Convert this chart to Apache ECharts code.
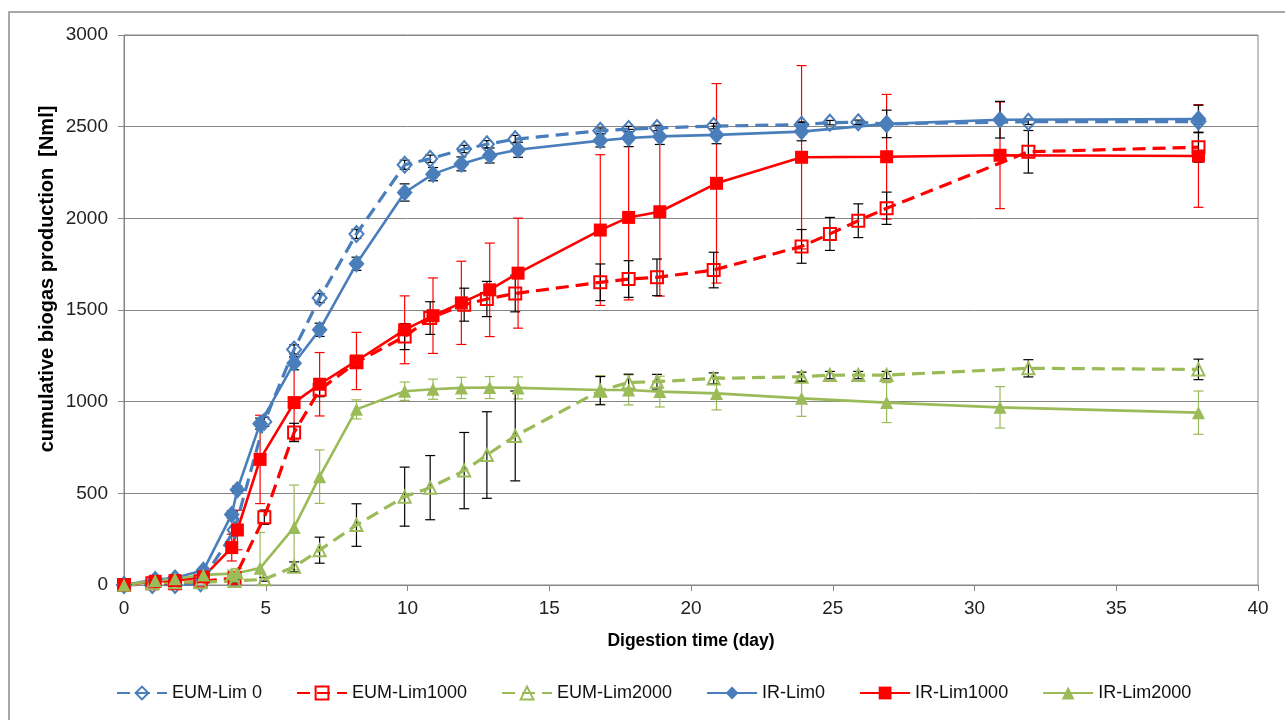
<!DOCTYPE html>
<html>
<head>
<meta charset="utf-8">
<script src="https://cdn.jsdelivr.net/npm/echarts@6/dist/echarts.min.js"></script>
<style>
html,body{margin:0;padding:0;background:#fff;}
#c{width:1285px;height:720px;}
</style>
</head>
<body>
<div id="c"></div>
<script>
// ---- data ----
const seriesNames = ['EUM-Lim 0', 'EUM-Lim1000', 'EUM-Lim2000', 'IR-Lim0', 'IR-Lim1000', 'IR-Lim2000'];
const xTitle = 'Digestion time (day)';
const yTitle = 'cumulative biogas production  [Nml]';
const daysEUM = [0, 1.0, 1.8, 2.7, 3.9, 4.95, 6.0, 6.9, 8.2, 9.9, 10.8, 12.0, 12.8, 13.8, 16.8, 17.8, 18.8, 20.8, 23.9, 24.9, 25.9, 26.9, 31.9, 37.9];
const daysIR = [0, 1.1, 1.8, 2.8, 3.8, 4.0, 4.8, 6.0, 6.9, 8.2, 9.9, 10.9, 11.9, 12.9, 13.9, 16.8, 17.8, 18.9, 20.9, 23.9, 26.9, 30.9, 37.9];

const eumLim0 = [0, 0, 0, 10, 300, 890, 1285, 1565, 1915, 2292, 2325, 2378, 2404, 2432, 2478, 2487, 2493, 2503, 2511, 2522, 2524, 2515, 2527, 2528];
const eumLim0Err = [0, 0, 0, 0, 20, 25, 25, 25, 25, 25, 20, 20, 20, 20, 15, 15, 15, 15, 15, 12, 12, 12, 15, 15];
const eumLim1000 = [0, 10, 10, 20, 38, 370, 832, 1065, 1215, 1355, 1456, 1529, 1560, 1590, 1651, 1669, 1678, 1718, 1847, 1915, 1987, 2055, 2363, 2388];
const eumLim1000Err = [0, 0, 0, 0, 10, 39, 50, 38, 30, 71, 89, 90, 96, 100, 100, 100, 100, 97, 92, 90, 92, 88, 116, 82];
const eumLim2000 = [0, 10, 15, 15, 22, 31, 99, 190, 327, 482, 531, 624, 709, 813, 1060, 1105, 1109, 1127, 1136, 1145, 1145, 1145, 1182, 1176];
const eumLim2000Err = [0, 0, 0, 0, 10, 10, 27, 71, 116, 161, 175, 208, 236, 245, 77, 45, 40, 30, 25, 20, 20, 20, 47, 56];

const irLim0 = [0, 30, 38, 80, 385, 520, 880, 1210, 1392, 1752, 2141, 2241, 2297, 2343, 2374, 2424, 2438, 2447, 2455, 2473, 2515, 2538, 2542];
const irLim0Err = [0, 0, 0, 0, 20, 20, 30, 36, 36, 36, 47, 36, 38, 41, 41, 35, 47, 44, 48, 50, 75, 100, 75];
const irLim1000 = [0, 20, 24, 44, 204, 300, 685, 995, 1095, 1222, 1392, 1469, 1539, 1610, 1701, 1936, 2005, 2036, 2191, 2333, 2336, 2344, 2340];
const irLim1000Err = [0, 5, 5, 10, 73, 108, 241, 204, 173, 156, 185, 206, 227, 255, 300, 411, 450, 460, 544, 500, 340, 291, 280];
const irLim2000 = [0, 24, 34, 55, 62, 65, 92, 314, 591, 958, 1057, 1068, 1075, 1077, 1075, 1064, 1064, 1055, 1045, 1018, 995, 969, 940];
const irLim2000Err = [0, 5, 5, 10, 20, 25, 195, 231, 146, 52, 50, 55, 58, 60, 60, 78, 82, 84, 90, 98, 109, 113, 118];

const xTicks = {min: 0, max: 40, interval: 5};
const yTicks = {min: 0, max: 3000, interval: 500};

// ---- styling ----
const BLUE = '#4A7EBB', RED = '#FF0000', GREEN = '#9BBB59';
const FONT = 'Liberation Sans, Arial, sans-serif';
const DASH = [13, 7];

function zip(xs, ys, es) { return xs.map((x, i) => es ? [x, ys[i], es[i]] : [x, ys[i]]); }

function lineSeries(name, xs, ys, color, symbol, size, open, dashed) {
  return {
    name: name, type: 'line', z: 3,
    data: zip(xs, ys),
    symbol: symbol, symbolSize: size,
    showAllSymbol: true,
    lineStyle: {color: color, width: dashed ? 3.2 : 2.6, type: dashed ? DASH : 'solid'},
    itemStyle: open ? {color: 'rgba(255,255,255,0)', borderColor: color, borderWidth: 2}
                    : {color: color, borderColor: color, borderWidth: 0},
    emphasis: {disabled: true},
    animation: false
  };
}

function errSeries(xs, ys, es, color, z) {
  return {
    type: 'custom', z: z, silent: true, animation: false,
    data: zip(xs, ys, es),
    encode: {x: 0, y: 1},
    renderItem: function (params, api) {
      const x = api.value(0), y = api.value(1), e = api.value(2);
      if (!e) return null;
      const lo = Math.max(yTicks.min, y - e), hi = Math.min(yTicks.max, y + e);
      const p1 = api.coord([x, lo]), p2 = api.coord([x, hi]);
      const st = {stroke: color, lineWidth: 1.2};
      const children = [{type: 'line', shape: {x1: p1[0], y1: p1[1], x2: p2[0], y2: p2[1]}, style: st}];
      if (y - e >= yTicks.min) children.push({type: 'line', shape: {x1: p1[0] - 5, y1: p1[1], x2: p1[0] + 5, y2: p1[1]}, style: st});
      if (y + e <= yTicks.max) children.push({type: 'line', shape: {x1: p2[0] - 5, y1: p2[1], x2: p2[0] + 5, y2: p2[1]}, style: st});
      return {type: 'group', children: children};
    }
  };
}

const chart = echarts.init(document.getElementById('c'), null, {renderer: 'canvas'});
const axisCol = '#868686';
chart.setOption({
  backgroundColor: '#fff',
  animation: false,
  textStyle: {fontFamily: FONT},
  graphic: [
    {type: 'rect', shape: {x: 9, y: 12, width: 1400, height: 900}, style: {fill: 'none', stroke: '#8C8C8C', lineWidth: 1.5}, silent: true, z: -10},
    {type: 'text', x: 47, y: 279, rotation: Math.PI / 2, silent: true,
     style: {text: yTitle, align: 'center', verticalAlign: 'middle', fill: '#000', font: 'bold 20px ' + FONT}}
  ],
  grid: {left: 124, right: 27, top: 35, bottom: 135, show: true, borderColor: axisCol, borderWidth: 1, backgroundColor: 'transparent'},
  legend: {
    data: seriesNames, bottom: 13, left: 111, itemGap: 34, itemWidth: 50, itemHeight: 16,
    textStyle: {fontFamily: FONT, fontSize: 18, color: '#111'}
  },
  xAxis: {
    type: 'value', min: xTicks.min, max: xTicks.max, interval: xTicks.interval,
    name: xTitle, nameLocation: 'middle', nameGap: 47,
    nameTextStyle: {fontFamily: FONT, fontSize: 17.5, fontWeight: 'bold', color: '#000'},
    axisLine: {show: true, onZero: false, lineStyle: {color: axisCol, width: 1}},
    axisTick: {show: true, inside: false, length: 6, lineStyle: {color: axisCol}},
    axisLabel: {fontFamily: FONT, fontSize: 19, color: '#222', margin: 14, formatter: v => String(v)},
    splitLine: {show: false}
  },
  yAxis: {
    type: 'value', min: yTicks.min, max: yTicks.max, interval: yTicks.interval,
    axisLine: {show: true, lineStyle: {color: axisCol, width: 1}},
    axisTick: {show: true, inside: false, length: 6, lineStyle: {color: axisCol}},
    axisLabel: {fontFamily: FONT, fontSize: 19, color: '#222', margin: 16, formatter: v => String(v)},
    splitLine: {show: true, lineStyle: {color: axisCol, width: 1}}
  },
  series: [
    errSeries(daysIR, irLim1000, irLim1000Err, RED, 1),
    errSeries(daysIR, irLim2000, irLim2000Err, GREEN, 1),
    errSeries(daysEUM, eumLim0, eumLim0Err, '#000', 1),
    errSeries(daysEUM, eumLim1000, eumLim1000Err, '#000', 1),
    errSeries(daysEUM, eumLim2000, eumLim2000Err, '#000', 1),
    errSeries(daysIR, irLim0, irLim0Err, '#000', 1),
    lineSeries(seriesNames[0], daysEUM, eumLim0, BLUE, 'diamond', [14, 16], true, true),
    lineSeries(seriesNames[1], daysEUM, eumLim1000, RED, 'rect', 12, true, true),
    lineSeries(seriesNames[2], daysEUM, eumLim2000, GREEN, 'triangle', 12, true, true),
    lineSeries(seriesNames[3], daysIR, irLim0, BLUE, 'diamond', [16, 18], false, false),
    lineSeries(seriesNames[4], daysIR, irLim1000, RED, 'rect', 13, false, false),
    lineSeries(seriesNames[5], daysIR, irLim2000, GREEN, 'triangle', 13, false, false)
  ]
});
</script>
</body>
</html>
